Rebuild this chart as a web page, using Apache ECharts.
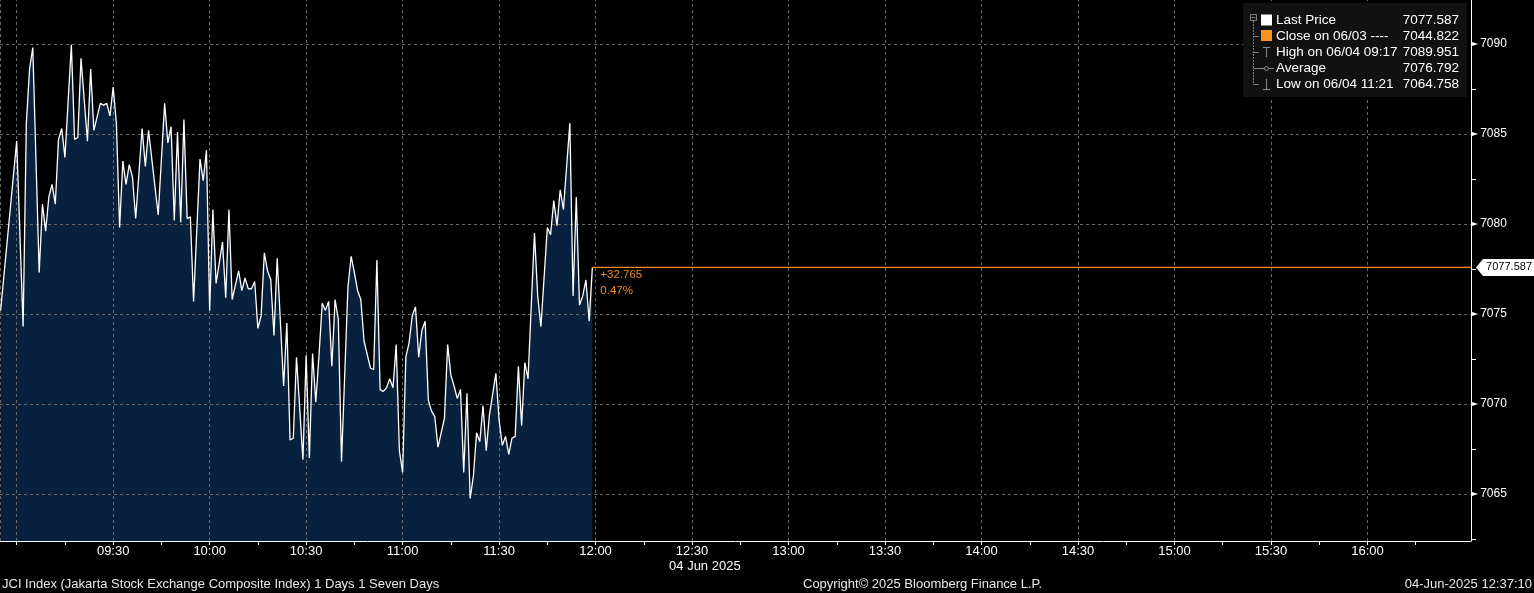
<!DOCTYPE html>
<html>
<head>
<meta charset="utf-8">
<script src="https://cdn.jsdelivr.net/npm/echarts@6/dist/echarts.min.js"></script>
<style>
html,body{margin:0;padding:0;background:#000;overflow:hidden;}
#c{width:1534px;height:593px;}
</style>
</head>
<body>
<div id="c"></div>
<script>
// ---------------- data ----------------
const times = ['08:55','09:00','09:02','09:03','09:04','09:05','09:07','09:08','09:09','09:10',
'09:11','09:12','09:13','09:14','09:15','09:17','09:18','09:19','09:20','09:22',
'09:23','09:24','09:26','09:27','09:28','09:29','09:30','09:31','09:32','09:33',
'09:34','09:35','09:36','09:37','09:39','09:40','09:41','09:44','09:46','09:47',
'09:48','09:49','09:50','09:51','09:52','09:53','09:54','09:55','09:57','09:58',
'09:59','10:00','10:01','10:02','10:04','10:05','10:06','10:07','10:09','10:10',
'10:11','10:12','10:13','10:14','10:15','10:16','10:17','10:18','10:19','10:20',
'10:21','10:23','10:24','10:25','10:26','10:27','10:29','10:30','10:31','10:32',
'10:33','10:34','10:35','10:36','10:37','10:38','10:39','10:40','10:41','10:43',
'10:44','10:45','10:46','10:47','10:48','10:50','10:51','10:52','10:53','10:54',
'10:55','10:56','10:57','10:58','10:59','11:00','11:01','11:02','11:03','11:04',
'11:05','11:06','11:07','11:08','11:09','11:10','11:11','11:13','11:14','11:15',
'11:16','11:17','11:18','11:19','11:20','11:21','11:22','11:23','11:24','11:25',
'11:26','11:27','11:29','11:30','11:31','11:32','11:33','11:34','11:35','11:36',
'11:37','11:38','11:39','11:41','11:42','11:43','11:45','11:46','11:47','11:48',
'11:49','11:50','11:52','11:53','11:54','11:55','11:56','11:57','11:58','11:59'];
const prices = [7075.2,7084.6,7074.3,7085.6,7088.6,7089.8,7077.3,7081.1,7079.6,7081.5,
7082.2,7081.1,7084.7,7085.3,7083.7,7089.951,7084.7,7084.8,7089.2,7084.6,
7088.6,7085.2,7086.7,7086.6,7086.7,7086.0,7087.6,7085.6,7079.8,7083.5,
7082.2,7083.3,7082.6,7080.3,7085.3,7083.2,7085.2,7080.5,7086.7,7084.5,
7085.4,7080.2,7085.1,7080.1,7085.8,7080.3,7080.4,7075.7,7083.6,7082.4,
7084.1,7075.2,7080.8,7076.7,7079.0,7075.9,7080.8,7075.8,7077.4,7076.3,
7077.0,7076.4,7076.4,7076.8,7074.2,7074.9,7078.4,7077.4,7076.9,7073.8,
7078.1,7071.0,7074.5,7068.0,7068.1,7072.6,7066.9,7072.7,7067.0,7072.8,
7070.1,7072.7,7075.6,7075.2,7075.7,7072.1,7075.8,7074.7,7066.8,7076.5,
7078.2,7077.3,7076.3,7075.8,7073.5,7072.0,7071.9,7078.0,7070.8,7070.7,
7070.9,7071.4,7070.9,7073.3,7067.4,7066.2,7072.6,7073.4,7074.9,7075.4,
7072.6,7074.1,7074.6,7070.2,7069.6,7069.3,7067.6,7069.2,7073.3,7071.6,
7071.0,7070.3,7070.8,7066.2,7070.6,7064.758,7066.0,7068.4,7067.9,7069.9,
7067.4,7069.4,7071.7,7069.1,7067.7,7068.2,7067.2,7068.1,7068.2,7072.1,
7068.8,7072.3,7071.4,7079.5,7076.0,7074.3,7079.8,7079.4,7081.3,7079.9,
7081.9,7080.8,7085.6,7076.0,7081.5,7075.5,7076.0,7076.9,7074.6,7077.587];

const xTickTimes = ['09:00','09:15','09:30','09:45','10:00','10:15','10:30','10:45','11:00','11:15',
'11:30','11:45','12:00','12:15','12:30','12:45','13:00','13:15','13:30','13:45','14:00','14:15',
'14:30','14:45','15:00','15:15','15:30','15:45','16:00','16:15'];
const xLabelTimes = ['09:30','10:00','10:30','11:00','11:30','12:00','12:30','13:00','13:30',
'14:00','14:30','15:00','15:30','16:00'];
const xGridTimes = ['09:00','09:30','10:00','10:30','11:00','11:30','12:00','12:30','13:00','13:30',
'14:00','14:30','15:00','15:30','16:00'];
const yLabelValues = [7065,7070,7075,7080,7085,7090];
const yMinorTicks = [7062.5,7067.5,7072.5,7077.5,7082.5,7087.5];

const lastPrice = 7077.587;
const changeText = '+32.765';
const changePct = '0.47%';
const dateLabel = '04 Jun 2025';
const dateLabelTime = '12:30';

const legendLabels = ['Last Price','Close on 06/03 ----','High on 06/04 09:17','Average','Low on 06/04 11:21'];
const legendValues = ['7077.587','7044.822','7089.951','7076.792','7064.758'];
const legendIcons = ['square','square','high','avg','low'];
const legendColors = ['#ffffff','#f7941d','#8a8a8a','#8a8a8a','#8a8a8a'];

const footerLeft = 'JCI Index (Jakarta Stock Exchange Composite Index) 1 Days 1 Seven Days';
const footerMid = 'Copyright\u00A9 2025 Bloomberg Finance L.P.';
const footerRight = '04-Jun-2025 12:37:10';

// ---------------- layout ----------------
const X_MIN = 534.81, X_MAX = 992.2;
const Y_MIN = 7062.39, Y_MAX = 7092.44;
const FONT = '"Liberation Sans", Arial, sans-serif';
const ORANGE = '#f08a24';

const toMin = s => { const p = s.split(':').map(Number); return p[0]*60 + p[1]; };
const fmt = v => { const h = Math.floor(v/60), m = Math.round(v - h*60);
  return String(h).padStart(2,'0') + ':' + String(m).padStart(2,'0'); };

const seriesData = times.map((t,i) => [toMin(t), prices[i]]);
const lastT = toMin(times[times.length-1]);

const gridLines = [];
yLabelValues.forEach(v => gridLines.push({yAxis: v}));
xGridTimes.forEach(t => gridLines.push({xAxis: toMin(t)}));
gridLines.push({xAxis: X_MIN + 0.2});

const chart = echarts.init(document.getElementById('c'));
chart.setOption({
  backgroundColor:'#000',
  animation:false,
  grid:{left:0, right:63, top:0, bottom:52, containLabel:false},
  xAxis:{
    type:'value', min:X_MIN, max:X_MAX,
    axisLine:{show:true, onZero:false, lineStyle:{color:'#ffffff', width:1}},
    axisTick:{show:true, customValues:xTickTimes.map(toMin), length:4, lineStyle:{color:'#ffffff'}},
    axisLabel:{customValues:xLabelTimes.map(toMin), formatter:fmt, color:'#ffffff', fontSize:13, fontFamily:FONT, margin:4},
    splitLine:{show:false}
  },
  yAxis:{
    type:'value', position:'right', min:Y_MIN, max:Y_MAX, scale:true,
    axisLine:{show:true, lineStyle:{color:'#ffffff', width:1}},
    axisTick:{show:true, customValues:yMinorTicks, length:5, lineStyle:{color:'#ffffff'}},
    axisLabel:{customValues:yLabelValues, formatter: v => '{t|\u25BA}' + v, color:'#ffffff', fontSize:12, fontFamily:FONT, margin:1,
      rich:{t:{fontSize:8, color:'#ffffff', padding:[0,2,0,0], fontFamily:'DejaVu Sans'}}},
    splitLine:{show:false}
  },
  series:[
    {type:'line', data:seriesData, showSymbol:false, z:1, silent:true,
     lineStyle:{opacity:0, width:0}, areaStyle:{color:'#08213f', opacity:1, origin:'start'},
     markLine:{silent:true, z:2, symbol:['none','none'], label:{show:false}, emphasis:{disabled:true},
       lineStyle:{type:[3,3], color:'#6a6a6a', width:1}, data:gridLines}},
    {type:'line', data:seriesData, showSymbol:false, z:3, silent:true,
     lineStyle:{color:'#ffffff', width:1.3}},
    {type:'line', data:[[lastT, lastPrice],[X_MAX, lastPrice]], showSymbol:false, z:4, silent:true,
     itemStyle:{color:ORANGE}, lineStyle:{color:ORANGE, width:1.2, type:'solid'}}
  ]
});

// ---------------- overlays ----------------
const pLast = chart.convertToPixel({gridIndex:0}, [lastT, lastPrice]);
const pDate = chart.convertToPixel({gridIndex:0}, [toMin(dateLabelTime), Y_MIN]);
const axisX = chart.convertToPixel({gridIndex:0}, [X_MAX, lastPrice])[0];

const g = [];
g.push({type:'text', left:pLast[0]+8, top:pLast[1]+1, z:50,
  style:{text:changeText, fill:ORANGE, font:'11.5px ' + FONT}});
g.push({type:'text', left:pLast[0]+8, top:pLast[1]+17, z:50,
  style:{text:changePct, fill:ORANGE, font:'11.5px ' + FONT}});
const ty = pLast[1];
g.push({type:'polygon', z:50, shape:{points:[[axisX+5,ty],[axisX+12,ty-8.5],[1534,ty-8.5],[1534,ty+8.5],[axisX+12,ty+8.5]]},
  style:{fill:'#ffffff'}});
g.push({type:'text', x:1532, y:ty, z:51,
  style:{text:legendValues[0], fill:'#000000', font:'11px ' + FONT, textAlign:'right', textVerticalAlign:'middle'}});
g.push({type:'text', x:pDate[0]-23, y:566, z:50,
  style:{text:dateLabel, fill:'#ffffff', font:'13px ' + FONT, textVerticalAlign:'middle'}});
g.push({type:'text', x:2, y:584, z:50, style:{text:footerLeft, fill:'#e8e8e8', font:'13px ' + FONT, textVerticalAlign:'middle'}});
g.push({type:'text', x:803, y:584, z:50, style:{text:footerMid, fill:'#e8e8e8', font:'13px ' + FONT, textVerticalAlign:'middle'}});
g.push({type:'text', x:1532, y:584, z:50, style:{text:footerRight, fill:'#e8e8e8', font:'13px ' + FONT, textAlign:'right', textVerticalAlign:'middle'}});

g.push({type:'rect', z:60, shape:{x:1243, y:3, width:224, height:94}, style:{fill:'#111111'}});
const treeColor = '#7c7c7c';
g.push({type:'rect', z:61, shape:{x:1250.5, y:14.5, width:6, height:6}, style:{fill:'none', stroke:treeColor, lineWidth:1}});
g.push({type:'line', z:61, shape:{x1:1251.5, y1:17.5, x2:1255.5, y2:17.5}, style:{stroke:treeColor, lineWidth:1}});
g.push({type:'line', z:61, shape:{x1:1253.5, y1:21, x2:1253.5, y2:84.5}, style:{stroke:treeColor, lineWidth:1, lineDash:[2,1]}});
const rowY = [20.5, 36, 52, 68, 84];
legendLabels.forEach((lab, i) => {
  const y = rowY[i];
  if (i > 0) g.push({type:'line', z:61, shape:{x1:1253.5, y1:y+0.5, x2:1259, y2:y+0.5}, style:{stroke:treeColor, lineWidth:1}});
  const ic = legendIcons[i];
  if (ic === 'square') {
    g.push({type:'rect', z:61, shape:{x:1261, y:y-6, width:11, height:11}, style:{fill:legendColors[i]}});
  } else if (ic === 'high') {
    g.push({type:'line', z:61, shape:{x1:1266.5, y1:y-5, x2:1266.5, y2:y+5}, style:{stroke:legendColors[i], lineWidth:1}});
    g.push({type:'line', z:61, shape:{x1:1263, y1:y-4.5, x2:1270, y2:y-4.5}, style:{stroke:legendColors[i], lineWidth:1}});
  } else if (ic === 'low') {
    g.push({type:'line', z:61, shape:{x1:1266.5, y1:y-5, x2:1266.5, y2:y+5}, style:{stroke:legendColors[i], lineWidth:1}});
    g.push({type:'line', z:61, shape:{x1:1263, y1:y+5.5, x2:1270, y2:y+5.5}, style:{stroke:legendColors[i], lineWidth:1}});
  } else {
    g.push({type:'line', z:61, shape:{x1:1259, y1:y+0.5, x2:1274, y2:y+0.5}, style:{stroke:legendColors[i], lineWidth:1}});
    g.push({type:'circle', z:62, shape:{cx:1266.5, cy:y+0.5, r:2}, style:{fill:'#111111', stroke:legendColors[i], lineWidth:1}});
  }
  g.push({type:'text', z:62, x:1276, y:y, style:{text:lab, fill:'#ffffff', font:'13.5px ' + FONT, textVerticalAlign:'middle'}});
  g.push({type:'text', z:62, x:1459, y:y, style:{text:legendValues[i], fill:'#ffffff', font:'13.5px ' + FONT, textAlign:'right', textVerticalAlign:'middle'}});
});

chart.setOption({graphic:g});
</script>
</body>
</html>
